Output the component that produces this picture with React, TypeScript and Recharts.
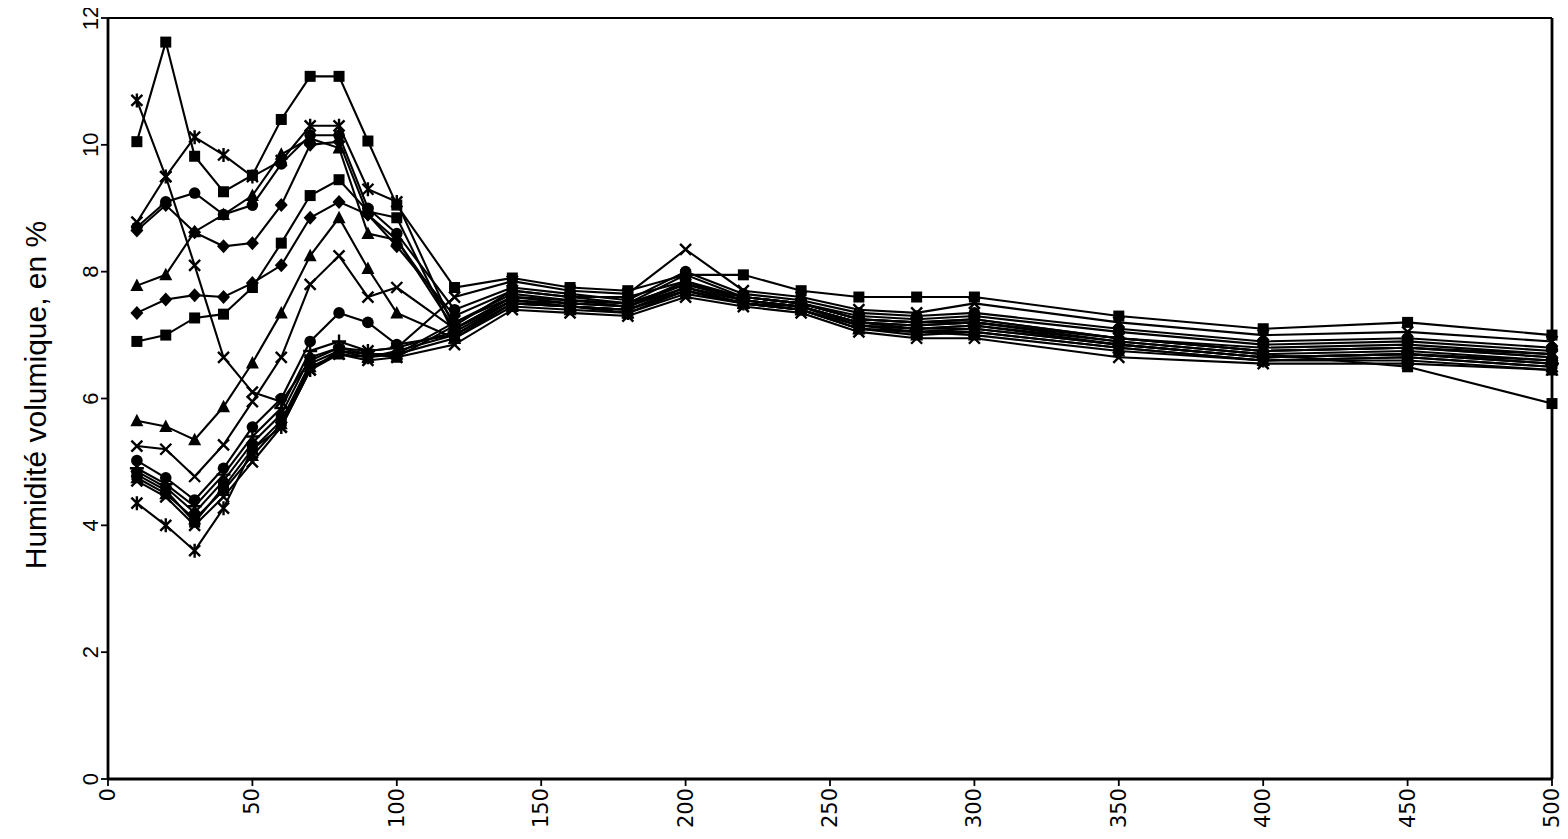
import React from "react";
import { LineChart, Line, XAxis, YAxis, ReferenceLine } from "recharts";

// Depth of each measurement point
const depths = [10, 20, 30, 40, 50, 60, 70, 80, 90, 100, 120, 140, 160, 180, 200, 220, 240, 260, 280, 300, 350, 400, 450, 500];

// Volumetric moisture profiles, one array per survey
const s1 = [10.7, 9.5, 10.12, 9.84, 9.5, 9.75, 10.3, 10.3, 9.3, 9.1, 7.1, 7.6, 7.55, 7.5, 7.8, 7.6, 7.5, 7.25, 7.2, 7.25, 6.95, 6.8, 6.85, 6.7];
const s2 = [10.05, 11.62, 9.82, 9.26, 9.52, 10.4, 11.08, 11.08, 10.06, 9.05, 7.75, 7.9, 7.75, 7.7, 7.95, 7.95, 7.7, 7.6, 7.6, 7.6, 7.3, 7.1, 7.2, 7.0];
const s3 = [8.78, 9.5, 8.1, 6.65, 6.1, 5.95, 6.6, 6.8, 6.75, 6.8, 7.6, 7.85, 7.7, 7.65, 8.35, 7.7, 7.6, 7.4, 7.35, 7.5, 7.2, 7.0, 7.05, 6.9];
const s4 = [8.7, 9.1, 9.24, 8.9, 9.05, 9.7, 10.15, 10.15, 9.0, 8.6, 7.4, 7.75, 7.65, 7.55, 8.0, 7.65, 7.55, 7.35, 7.3, 7.35, 7.1, 6.9, 6.95, 6.8];
const s5 = [8.65, 9.05, 8.62, 8.4, 8.45, 9.05, 10.0, 10.05, 8.9, 8.4, 7.3, 7.7, 7.6, 7.5, 7.95, 7.6, 7.5, 7.3, 7.25, 7.3, 7.05, 6.85, 6.9, 6.75];
const s6 = [7.78, 7.95, 8.63, 8.9, 9.2, 9.85, 10.1, 9.95, 8.6, 8.5, 7.2, 7.65, 7.55, 7.45, 7.85, 7.55, 7.45, 7.2, 7.15, 7.2, 6.95, 6.75, 6.8, 6.65];
const s7 = [7.35, 7.56, 7.63, 7.6, 7.82, 8.1, 8.85, 9.1, 8.9, 8.5, 7.1, 7.6, 7.5, 7.45, 7.8, 7.55, 7.45, 7.15, 7.1, 7.15, 6.9, 6.7, 6.75, 6.6];
const s8 = [6.9, 7.0, 7.27, 7.33, 7.75, 8.45, 9.2, 9.45, 8.95, 8.85, 7.0, 7.55, 7.45, 7.4, 7.75, 7.5, 7.4, 7.1, 7.05, 7.1, 6.85, 6.65, 6.7, 6.55];
const s9 = [5.65, 5.56, 5.35, 5.87, 6.56, 7.35, 8.25, 8.85, 8.05, 7.35, 6.95, 7.5, 7.45, 7.4, 7.7, 7.5, 7.4, 7.1, 7.0, 7.05, 6.8, 6.6, 6.65, 6.5];
const s10 = [5.25, 5.2, 4.77, 5.27, 5.95, 6.65, 7.8, 8.25, 7.6, 7.75, 7.1, 7.55, 7.45, 7.4, 7.75, 7.55, 7.45, 7.2, 7.15, 7.2, 6.95, 6.75, 6.8, 6.7];
const s11 = [5.02, 4.75, 4.4, 4.9, 5.55, 6.0, 6.9, 7.35, 7.2, 6.85, 7.0, 7.5, 7.45, 7.4, 7.7, 7.5, 7.4, 7.15, 7.1, 7.1, 6.85, 6.65, 6.7, 6.6];
const s12 = [4.9, 4.65, 4.3, 4.8, 5.4, 5.85, 6.75, 6.9, 6.75, 6.8, 7.05, 7.55, 7.5, 7.45, 7.75, 7.55, 7.45, 7.2, 7.1, 7.15, 6.85, 6.65, 6.7, 6.55];
const s13 = [4.85, 4.6, 4.2, 4.7, 5.3, 5.75, 6.65, 6.8, 6.7, 6.7, 7.2, 7.6, 7.55, 7.5, 7.8, 7.6, 7.5, 7.25, 7.2, 7.25, 6.95, 6.75, 6.8, 6.65];
const s14 = [4.8, 4.55, 4.05, 4.6, 5.2, 5.65, 6.55, 6.75, 6.7, 6.65, 7.15, 7.7, 7.6, 7.6, 7.85, 7.6, 7.5, 7.25, 7.2, 7.2, 6.9, 6.7, 6.5, 5.92];
const s15 = [4.75, 4.5, 4.1, 4.55, 5.1, 5.6, 6.5, 6.7, 6.65, 6.7, 6.95, 7.45, 7.4, 7.35, 7.65, 7.5, 7.4, 7.1, 7.05, 7.0, 6.75, 6.6, 6.6, 6.45];
const s16 = [4.7, 4.45, 4.0, 4.45, 5.0, 5.55, 6.45, 6.7, 6.6, 6.65, 6.85, 7.4, 7.35, 7.3, 7.6, 7.45, 7.35, 7.05, 6.95, 6.95, 6.65, 6.55, 6.55, 6.45];
const s17 = [4.35, 4.0, 3.6, 4.27, 5.2, 5.55, 6.45, 6.75, 6.65, 6.75, 7.0, 7.5, 7.45, 7.35, 7.7, 7.5, 7.45, 7.15, 7.05, 7.05, 6.8, 6.6, 6.65, 6.5];

const profiles = [s1, s2, s3, s4, s5, s6, s7, s8, s9, s10, s11, s12, s13, s14, s15, s16, s17];
const markers = ["star", "square", "x", "circle", "diamond", "triangle", "diamond", "square", "triangle", "x", "circle", "plus", "diamond", "square", "triangle", "x", "star"];

const xTicks = [0, 50, 100, 150, 200, 250, 300, 350, 400, 450, 500];
const yTicks = [0, 2, 4, 6, 8, 10, 12];

const rows = depths.map((d, i) => {
  const row: Record<string, number> = { depth: d };
  profiles.forEach((p, k) => {
    row["s" + (k + 1)] = p[i];
  });
  return row;
});

function Marker({ cx, cy, kind }: { cx?: number; cy?: number; kind: string }) {
  if (cx == null || cy == null) return null;
  const k = "#000";
  switch (kind) {
    case "square":
      return <rect x={cx - 5.5} y={cy - 5.5} width={11} height={11} fill={k} />;
    case "diamond":
      return <path d={`M${cx},${cy - 7}L${cx + 6.5},${cy}L${cx},${cy + 7}L${cx - 6.5},${cy}Z`} fill={k} />;
    case "triangle":
      return <path d={`M${cx},${cy - 7}L${cx + 6.5},${cy + 5.5}L${cx - 6.5},${cy + 5.5}Z`} fill={k} />;
    case "circle":
      return <circle cx={cx} cy={cy} r={5.8} fill={k} />;
    case "x":
      return (
        <path d={`M${cx - 5.5},${cy - 5.5}L${cx + 5.5},${cy + 5.5}M${cx + 5.5},${cy - 5.5}L${cx - 5.5},${cy + 5.5}`} stroke={k} strokeWidth={2.4} />
      );
    case "star":
      return (
        <path
          d={`M${cx - 5.5},${cy - 5.5}L${cx + 5.5},${cy + 5.5}M${cx + 5.5},${cy - 5.5}L${cx - 5.5},${cy + 5.5}M${cx},${cy - 7}L${cx},${cy + 7}`}
          stroke={k}
          strokeWidth={2.4}
        />
      );
    case "plus":
      return <path d={`M${cx - 7},${cy}L${cx + 7},${cy}M${cx},${cy - 7}L${cx},${cy + 7}`} stroke={k} strokeWidth={2.4} />;
    default:
      return null;
  }
}

function XTick({ x, y, payload }: any) {
  return (
    <text
      x={x}
      y={y}
      transform={`rotate(-90 ${x} ${y})`}
      textAnchor="end"
      dominantBaseline="central"
      fontFamily="DejaVu Sans"
      fontSize={21}
      fill="#000"
    >
      {payload.value}
    </text>
  );
}

function YTick({ x, y, payload }: any) {
  return (
    <text
      x={x - 1}
      y={y}
      transform={`rotate(-90 ${x - 1} ${y})`}
      textAnchor="middle"
      fontFamily="Liberation Sans"
      fontSize={22}
      fill="#000"
    >
      {payload.value}
    </text>
  );
}

export default function App() {
  return (
    <div style={{ width: 1552, height: 823, background: "#fff" }}>
      <style>{"svg.recharts-surface{overflow:visible}"}</style>
      <LineChart width={1552} height={823} data={rows} margin={{ top: 10, right: 8, bottom: 0, left: 40 }}>
        <XAxis
          type="number"
          dataKey="depth"
          domain={[0, 500]}
          ticks={xTicks}
          interval={0}
          height={52}
          tickSize={7}
          tick={<XTick />}
          tickLine={{ stroke: "#000", strokeWidth: 1.8 }}
          axisLine={{ stroke: "#000", strokeWidth: 2.8 }}
        />
        <YAxis
          type="number"
          domain={[0, 12]}
          ticks={yTicks}
          interval={0}
          width={60}
          tickSize={7}
          tick={<YTick />}
          tickLine={{ stroke: "#000", strokeWidth: 1.8 }}
          axisLine={{ stroke: "#000", strokeWidth: 2.8 }}
        />
        <ReferenceLine y={12} stroke="#000" strokeWidth={1.8} />
        <ReferenceLine x={500} stroke="#000" strokeWidth={2.8} />
        {profiles.map((_, k) => (
          <Line
            key={k}
            dataKey={"s" + (k + 1)}
            type="linear"
            stroke="#000"
            strokeWidth={2.1}
            isAnimationActive={false}
            dot={(p: any) => <Marker key={p.key ?? p.index} cx={p.cx} cy={p.cy} kind={markers[k]} />}
            activeDot={false}
          />
        ))}
        <text
          x={27}
          y={387}
          transform="rotate(-90 27 387)"
          textAnchor="middle"
          dominantBaseline="central"
          fontFamily="Liberation Sans"
          fontSize={30}
          fill="#000"
        >
          Humidité volumique, en %
        </text>
      </LineChart>
    </div>
  );
}
